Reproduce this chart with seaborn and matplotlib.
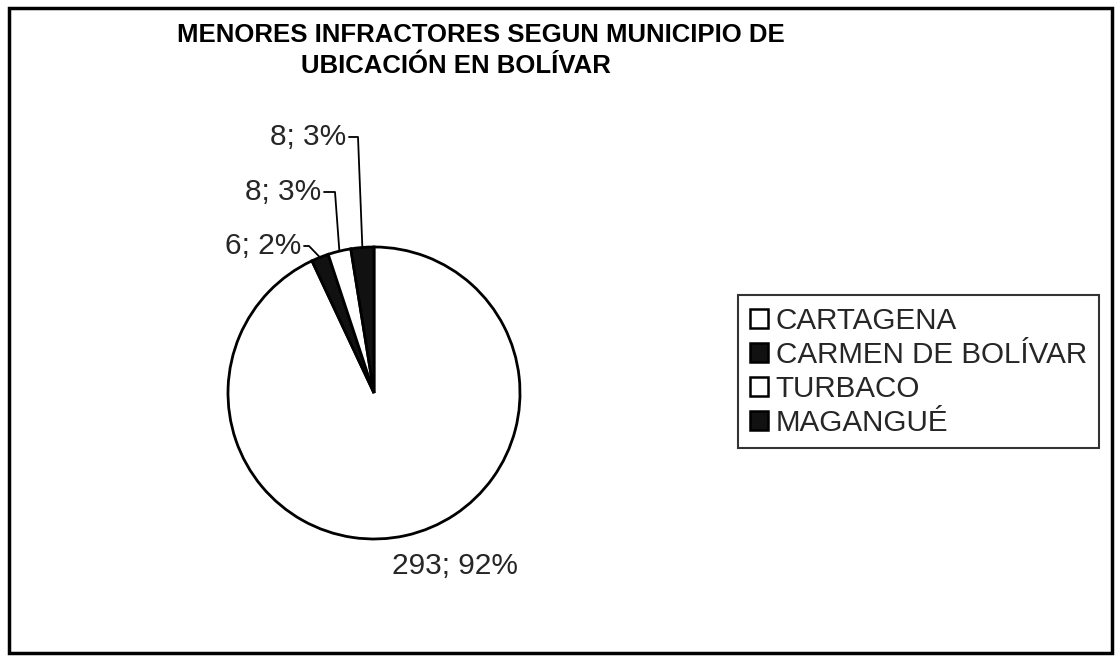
import numpy as np
import matplotlib
matplotlib.use("Agg")
import matplotlib.pyplot as plt
import seaborn as sns
from matplotlib.patches import Rectangle, Patch

# ---- data ----
municipios = ["CARTAGENA", "CARMEN DE BOLÍVAR", "TURBACO", "MAGANGUÉ"]
menores = [293, 6, 8, 8]
porcentajes = [92, 2, 3, 3]
titulo = ["MENORES INFRACTORES SEGUN MUNICIPIO DE", "UBICACIÓN EN BOLÍVAR"]

sns.set_theme(style="white")
plt.rcParams['font.family'] = ['Liberation Sans', 'DejaVu Sans']

W, H = 1118, 658
fig = plt.figure(figsize=(W / 100, H / 100), dpi=100)
fig.patch.set_facecolor("white")
ax = fig.add_axes([0, 0, 1, 1])

cx, cy, r = 374, H - 393, 146
colores = ["white", "#111111", "white", "#111111"]
wedges, _ = ax.pie(menores, colors=colores, startangle=90, counterclock=False,
                   center=(cx, cy), radius=r, frame=True,
                   wedgeprops=dict(edgecolor="black", linewidth=2))
ax.set_xlim(0, W)
ax.set_ylim(0, H)
ax.set_aspect("equal")
ax.axis("off")

# outer frame
ax.add_patch(Rectangle((9, H - 653), 1103, 645, fill=False, edgecolor="black",
                       linewidth=2.5, zorder=0))

# title
ax.text(481, H - 35, titulo[0], ha="center", va="center", fontsize=18.5,
        fontweight="bold", color="black")
ax.text(456, H - 66, titulo[1], ha="center", va="center", fontsize=18.5,
        fontweight="bold", color="black")

def etiqueta(i):
    return f"{menores[i]}; {porcentajes[i]}%"

def ancla(w):
    ang = np.deg2rad((w.theta1 + w.theta2) / 2)
    return cx + r * np.cos(ang), cy + r * np.sin(ang)

fs = 21.5
# big slice label
ax.text(455, H - 566, etiqueta(0), ha="center", va="center", fontsize=fs)

# small slice labels with leader lines: (text right x, text y, elbow x)
layout = {3: (346, 137, 358), 2: (321, 192, 335), 1: (301, 246, 309)}
for i, (tx, ty, ex) in layout.items():
    ax.text(tx, H - ty, etiqueta(i), ha="right", va="center", fontsize=fs)
    axp, ayp = ancla(wedges[i])
    ax.plot([tx + 3, ex, axp], [H - ty, H - ty, ayp], color="black", lw=1.3)

# legend
handles = [Patch(facecolor=c, edgecolor="black", linewidth=1.8) for c in colores]
leg = ax.legend(handles, municipios, loc="upper left",
                bbox_to_anchor=(738 / W, 1 - 295 / H), bbox_transform=fig.transFigure,
                borderaxespad=0, frameon=True, fancybox=False, fontsize=21.3,
                handlelength=0.62, handleheight=0.62, handletextpad=0.25,
                labelspacing=0.2, borderpad=0.4)
leg.get_frame().set_edgecolor("black")
leg.get_frame().set_linewidth(1.5)

fig.savefig("out.png", dpi=100, facecolor="white")
